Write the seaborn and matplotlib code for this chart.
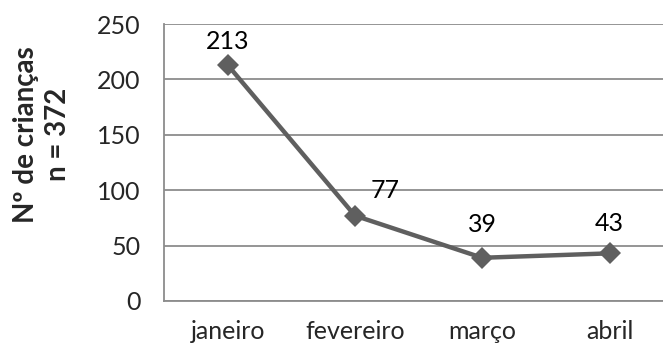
import pandas as pd
import matplotlib
matplotlib.use("Agg")
from matplotlib import pyplot as plt
import seaborn as sns

meses = ["janeiro", "fevereiro", "março", "abril"]
criancas = [213, 77, 39, 43]
yticks = [0, 50, 100, 150, 200, 250]

dt = pd.DataFrame({"Mes": meses, "Criancas": criancas})

sns.set_style("white")
plt.rcParams["font.family"] = ["Lato", "DejaVu Sans"]

fig = plt.figure(figsize=(6.63, 3.47), dpi=100)
ax = fig.add_axes([0.2474, 0.1326, 0.768, 0.7982])

sns.lineplot(data=dt, x="Mes", y="Criancas", ax=ax, color="#5f5f5f",
             linewidth=3.2, marker="D", markersize=11, markeredgewidth=0,
             sort=False, zorder=3)

# data labels, Excel-style
offsets = [(0, 9), (22, 10), (0, 16), (0, 13)]
for i, (v, off) in enumerate(zip(criancas, offsets)):
    ax.annotate(str(v), (i, v), xytext=off, textcoords="offset points",
                ha="center", va="bottom", fontsize=18, color="black")

ax.set_xlim(-0.5, 3.5)
ax.set_ylim(0, 250)
ax.set_yticks(yticks)
ax.yaxis.grid(True, color="#8c8c8c", linewidth=1.3)
ax.set_axisbelow(True)

for s in ["top", "right"]:
    ax.spines[s].set_visible(False)
ax.spines["left"].set_color("#8c8c8c")
ax.spines["bottom"].set_color("#8c8c8c")
ax.spines["left"].set_linewidth(1.3)
ax.spines["bottom"].set_linewidth(1.3)

ax.tick_params(axis="y", length=0, pad=17, labelsize=18)
ax.tick_params(axis="x", length=0, pad=14, labelsize=18)
ax.set_xlabel("")
ax.set_ylabel("Nº de crianças\nn = 372", fontsize=20, fontweight="bold",
              linespacing=1.3, va="center")
ax.yaxis.set_label_coords(-0.24, 0.6)

fig.savefig("out.png", dpi=100)
